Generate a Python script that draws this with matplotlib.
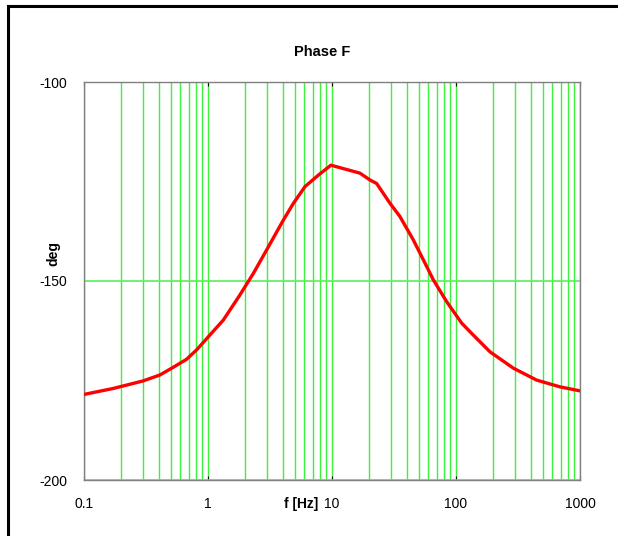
import numpy as np
import matplotlib
matplotlib.use("Agg")
from matplotlib import pyplot as plt
from matplotlib.lines import Line2D
from matplotlib.ticker import FixedLocator, NullFormatter

plt.rcParams['font.family'] = ['Liberation Sans', 'DejaVu Sans']

# phase curve
freq = [0.1, 0.172, 0.30, 0.41, 0.51, 0.67, 0.81, 1.0, 1.33, 1.80, 2.32,
        2.97, 4.05, 4.88, 6.05, 7.76, 9.8, 16.8, 20.2, 22.9, 29.4, 35.3, 45.3,
        58.1, 65.6, 84.1, 111.2, 138.0, 188.0, 290.0, 447.0, 690.0, 1000.0]
phase = [-178.5, -177.0, -175.1, -173.6, -171.9, -169.7, -167.3, -164.1, -159.8,
         -153.6, -148.1, -142.2, -134.7, -130.5, -126.3, -123.4, -120.9,
         -122.9, -124.6, -125.5, -130.5, -133.8, -139.7, -146.4, -149.7, -155.2,
         -160.6, -163.6, -167.8, -171.9, -174.9, -176.6, -177.6]

xticks = [0.1, 1, 10, 100, 1000]
xtick_labels = ['0.1', '1', '10', '100', '1000']
yticks = [-200, -150, -100]

fig = plt.figure(figsize=(6.18, 5.36), dpi=100)
ax = fig.add_axes([84 / 618, 56 / 536, 496 / 618, 398 / 536])

ax.set_xscale('log')
ax.set_xlim(0.1, 1000)
ax.set_ylim(-200, -100)

# green grid on every 1..9 of each decade
minors = [m * 10.0 ** e for e in range(-1, 3) for m in range(2, 10)]
ax.xaxis.set_major_locator(FixedLocator(xticks))
ax.xaxis.set_minor_locator(FixedLocator(minors))
ax.xaxis.set_minor_formatter(NullFormatter())
ax.set_xticklabels(xtick_labels)
ax.set_yticks(yticks)
ax.set_yticklabels([str(v) for v in yticks])
ax.grid(True, which='both', axis='x', color='#3cf03c', lw=1.0)
ax.grid(True, which='major', axis='y', color='#5af05a', lw=1.2)

ax.plot(freq, phase, color='#ff0000', lw=2.4, zorder=3)

for s in ax.spines.values():
    s.set_color('#808080')
    s.set_linewidth(1.0)

ax.tick_params(axis='x', which='major', direction='in', length=3, color='black',
               top=True, labelsize=10, pad=12)
ax.tick_params(axis='x', which='minor', length=0)
ax.tick_params(axis='y', length=0, labelsize=10, pad=12)

ax.set_title('Phase F', fontsize=10.5, fontweight='bold', pad=19, x=0.48)
ax.set_ylabel('deg', fontsize=10, fontweight='bold')
ax.yaxis.set_label_coords(-24 / 496, 0.57)
ax.text(0.437, -0.06, 'f [Hz]', transform=ax.transAxes, fontsize=10,
        fontweight='bold', ha='center', va='center')

# frame lines at top and left of the picture
fig.add_artist(Line2D([8 / 618, 1.0], [1 - 6 / 536, 1 - 6 / 536], color='black', lw=2.2))
fig.add_artist(Line2D([8 / 618, 8 / 618], [0, 1 - 9 / 536], color='black', lw=2.2))

fig.savefig('out.png', dpi=100)
